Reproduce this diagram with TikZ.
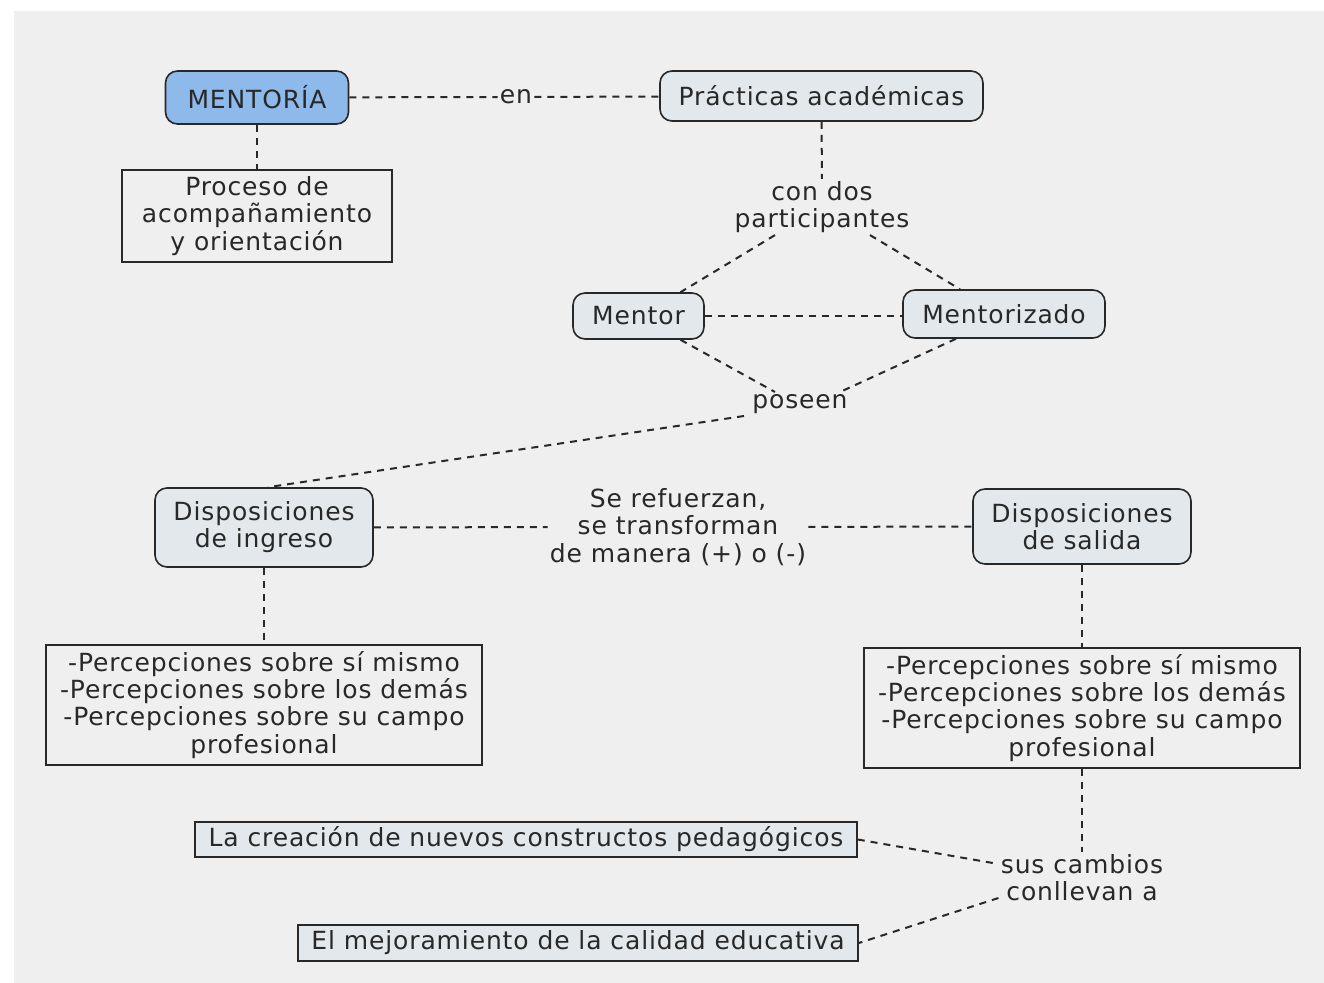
\documentclass[tikz,border=0pt]{standalone}
\usepackage{fontspec}
\setmainfont{DejaVu Sans}[LetterSpace=3.5]
\usetikzlibrary{calc}

\definecolor{fondo}{RGB}{239,239,239}
\definecolor{cajagris}{RGB}{226,232,235}
\definecolor{cajaazul}{RGB}{141,186,234}
\definecolor{tinta}{RGB}{40,40,40}

\begin{document}
\begin{tikzpicture}[x=0.5pt,y=-0.5pt,
		font=\fontsize{12.5}{13.6}\selectfont, text=tinta,
		concepto/.style={draw=tinta, line width=0.8pt, rounded corners=6pt, fill=cajagris, align=center, inner sep=0pt},
		recuadro/.style={draw=tinta, line width=0.8pt, fill=fondo, align=center, inner sep=0pt},
		enlace/.style={draw=tinta, line width=1pt, dash pattern=on 3.5pt off 3pt},
		etiqueta/.style={align=center, inner sep=1pt, fill=fondo}]
			% 背景
			\fill[white] (0,0) rectangle (1324,983);
			\fill[fondo] (14,11) rectangle (1324,983);
			\useasboundingbox (0,0) rectangle (1324,983);

			% 概念节点
			\node[concepto, fill=cajaazul, minimum width=91.5pt, minimum height=26.5pt] (mentoria) at (257,97.5) {MENTORÍA};
			\node[concepto, minimum width=161.5pt, minimum height=25pt] (practicas) at (821.5,96) {Prácticas académicas};
			\node[recuadro, minimum width=135pt, minimum height=46pt] (proceso) at (257,216) {Proceso de\\acompañamiento\\y orientación};
			\node[concepto, minimum width=65.5pt, minimum height=23pt] (mentor) at (638.5,316) {Mentor};
			\node[concepto, minimum width=101pt, minimum height=24pt] (mentorizado) at (1004,314) {Mentorizado};
			\node[concepto, minimum width=109pt, minimum height=39.5pt] (ingreso) at (264,527.5) {Disposiciones\\de ingreso};
			\node[concepto, minimum width=109pt, minimum height=37.5pt] (salida) at (1082,526.5) {Disposiciones\\de salida};
			\node[recuadro, minimum width=218pt, minimum height=60pt] (percepIzq) at (264,705) {-Percepciones sobre sí mismo\\-Percepciones sobre los demás\\-Percepciones sobre su campo\\profesional};
			\node[recuadro, minimum width=218pt, minimum height=60pt] (percepDer) at (1082,708) {-Percepciones sobre sí mismo\\-Percepciones sobre los demás\\-Percepciones sobre su campo\\profesional};
			\node[recuadro, fill=cajagris, minimum width=331pt, minimum height=17.5pt] (creacion) at (526,839.5) {La creación de nuevos constructos pedagógicos};
			\node[recuadro, fill=cajagris, minimum width=280pt, minimum height=18pt] (mejora) at (578,943) {El mejoramiento de la calidad educativa};

			% 连接词
			\node[etiqueta] (en) at (516,97) {en};
			\node[etiqueta] (condos) at (822,207) {con dos\\participantes};
			\node[etiqueta] (poseen) at (800,404) {poseen};
			\node[etiqueta] (refuerzan) at (678,527) {Se refuerzan,\\se transforman\\de manera (+) o (-)};
			\node[etiqueta] (cambios) at (1082,878) {sus cambios\\conllevan a};

			% 虚线连接
			\draw[enlace] (mentoria) -- (en);
			\draw[enlace] (en) -- (practicas);
			\draw[enlace] (mentoria) -- (proceso);
			\draw[enlace] (practicas) -- (condos);
			\draw[enlace] ($(condos.south)+(-47,0)$) -- ($(mentor.north)+(42,0)$);
			\draw[enlace] ($(condos.south)+(48,0)$) -- ($(mentorizado.north)+(-44,0)$);
			\draw[enlace] (mentor.east) -- (mentor.east -| mentorizado.west);
			\draw[enlace] ($(mentor.south)+(42,0)$) -- ($(poseen.north)+(-25,0)$);
			\draw[enlace] ($(mentorizado.south)+(-48,0)$) -- ($(poseen.north)+(40,0)$);
			\draw[enlace] ($(poseen.south west)+(-6,0)$) -- ($(ingreso.north)+(4,0)$);
			\draw[enlace] (ingreso) -- (refuerzan);
			\draw[enlace] (refuerzan) -- (salida);
			\draw[enlace] (ingreso) -- (percepIzq);
			\draw[enlace] (salida) -- (percepDer);
			\draw[enlace] (percepDer) -- (cambios);
			\draw[enlace] (creacion.east) -- ($(cambios.west)+(0,-14)$);
			\draw[enlace] ($(cambios.west)+(0,20)$) -- (mejora.east);
		\end{tikzpicture}
\end{document}
